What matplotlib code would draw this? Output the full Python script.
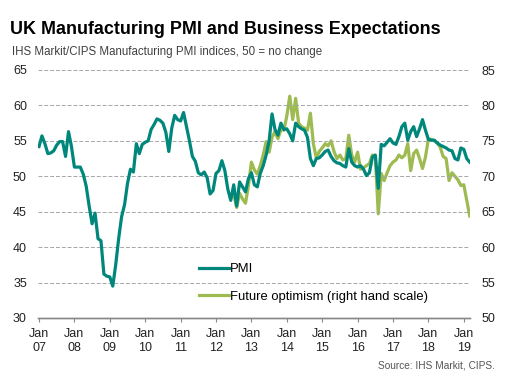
import matplotlib
matplotlib.use("Agg")
from matplotlib import pyplot as plt

plt.rcParams["font.family"] = ["Liberation Sans", "DejaVu Sans"]

# monthly, starting Jan 07
pmi = [
    54.2, 55.7, 54.6, 53.2, 53.3, 53.6, 54.4, 54.9, 54.9, 52.8, 56.3, 54.2,
    51.3, 51.3, 51.3, 50.3, 48.6, 45.8, 43.3, 44.8, 41.2, 40.9, 36.2, 35.9,
    35.8, 34.5, 37.5, 41.2, 44.3, 46.0, 49.0, 51.0, 50.6, 54.6, 53.2, 54.5,
    54.8, 55.0, 56.6, 57.3, 58.1, 57.9, 57.5, 56.2, 53.5, 56.8, 58.6, 58.0,
    57.8, 59.0, 57.0, 55.0, 52.8, 52.1, 50.5, 50.2, 50.6, 49.8, 47.5, 48.0,
    50.4, 50.8, 52.2, 50.8, 48.2, 46.6, 48.8, 45.8, 49.2, 48.5, 47.8, 49.7,
    50.5, 48.8, 48.5, 50.4, 51.5, 53.0, 55.0, 58.8, 56.6, 55.8, 57.5, 56.6,
    56.7, 56.0, 55.0, 57.5, 57.0, 56.7, 56.5, 55.5, 52.5, 51.5, 52.5, 52.6,
    53.0, 53.5, 53.7, 52.8, 52.2, 51.9, 51.8, 51.5, 51.3, 53.9, 52.0, 51.5,
    51.3, 51.5, 51.0, 50.1, 50.5, 52.7, 53.0, 48.3, 54.5, 54.3, 54.8, 55.3,
    54.7, 54.5, 55.6, 57.0, 57.5, 55.1, 56.3, 57.0, 55.6, 56.7, 58.0, 56.5,
    55.2, 55.1, 55.1, 54.7, 54.4, 54.2, 54.0, 53.7, 53.6, 52.5, 52.3, 54.0,
    53.8, 52.5, 52.0,
]

# future optimism, starts Jul 12 (month 66)
opt_start = 66
optimism = [
    67.5, 65.6, 67.6, 66.8, 66.2, 68.7,
    72.0, 70.9, 70.3, 71.5, 73.0, 74.9, 73.4, 75.5, 76.3, 75.3, 76.6, 76.5,
    78.5, 81.3, 78.0, 81.0, 77.5, 77.0, 76.8, 76.5, 78.9, 74.6, 72.6, 73.5,
    74.0, 74.6, 74.3, 75.0, 73.5, 72.5, 73.0, 72.3, 72.5, 75.8, 73.0, 72.0,
    73.4, 71.0, 71.2, 71.5, 71.8, 73.0, 72.8, 64.7, 70.4, 69.4, 70.5, 71.5,
    72.0, 72.3, 73.0, 72.6, 73.0, 74.6, 70.8, 73.2, 73.7, 72.5, 71.1, 72.7,
    75.3, 75.2, 75.0, 74.7, 74.1, 72.8, 72.5, 69.4, 70.5, 70.0, 69.5, 68.7,
    68.8, 66.6, 64.4,
]

years = ["07", "08", "09", "10", "11", "12", "13", "14", "15", "16", "17", "18", "19"]

teal = "#00877b"
green = "#9dbb50"
grid_col = "#a6a6a6"

fig = plt.figure(figsize=(5.09, 3.89), dpi=100)
ax = fig.add_axes([38 / 509, 1 - 318 / 389, (470 - 38) / 509, (318 - 70) / 389])
ax2 = ax.twinx()

x_pmi = list(range(len(pmi)))
x_opt = list(range(opt_start, opt_start + len(optimism)))

l1, = ax.plot(x_pmi, pmi, color=teal, lw=2.3, label="PMI", zorder=3)
l2, = ax2.plot(x_opt, optimism, color=green, lw=2.3,
               label="Future optimism (right hand scale)", zorder=2)

ax.set_zorder(ax2.get_zorder() + 1)
ax.patch.set_visible(False)

ax.set_xlim(-0.34, 146.1)
ax.set_ylim(30, 65)
ax2.set_ylim(50, 85)
ax.set_yticks(range(30, 66, 5))
ax2.set_yticks(range(50, 86, 5))

ax.set_xticks([i * 12 for i in range(len(years))])
ax.set_xticklabels(["Jan\n" + y for y in years])

for a in (ax, ax2):
    for s in ("top", "left", "right"):
        a.spines[s].set_visible(False)
    a.spines["bottom"].set_color("#888888")
    a.spines["bottom"].set_linewidth(1.0)

ax.yaxis.grid(True, linestyle=(0, (4, 2)), color=grid_col, lw=0.7)
ax.set_axisbelow(True)

ax.tick_params(axis="y", length=0, pad=8, labelsize=9, labelcolor="#222222")
ax2.tick_params(axis="y", length=0, pad=8.5, labelsize=9, labelcolor="#222222")
ax.tick_params(axis="x", length=3, color="#888888", pad=4, labelsize=9,
               labelcolor="#222222")

ax.legend([l1, l2], [l1.get_label(), l2.get_label()], loc="center left",
          bbox_to_anchor=(199 / 509, 1 - 283 / 389), bbox_transform=fig.transFigure,
          frameon=False, fontsize=9.4, handlelength=2.3, handletextpad=0.1,
          labelspacing=1.15, borderpad=0, borderaxespad=0)

fig.text(10 / 509, 1 - 30 / 389, "UK Manufacturing PMI and Business Expectations",
         fontsize=12.9, fontweight="bold", va="center", ha="left")
fig.text(12 / 509, 1 - 52 / 389, "IHS Markit/CIPS Manufacturing PMI indices, 50 = no change",
         fontsize=8.3, color="#404040", va="center", ha="left")
fig.text(495 / 509, 1 - 365 / 389, "Source: IHS Markit, CIPS.",
         fontsize=7.3, color="#555555", va="center", ha="right")

fig.savefig("out.png", dpi=100)
